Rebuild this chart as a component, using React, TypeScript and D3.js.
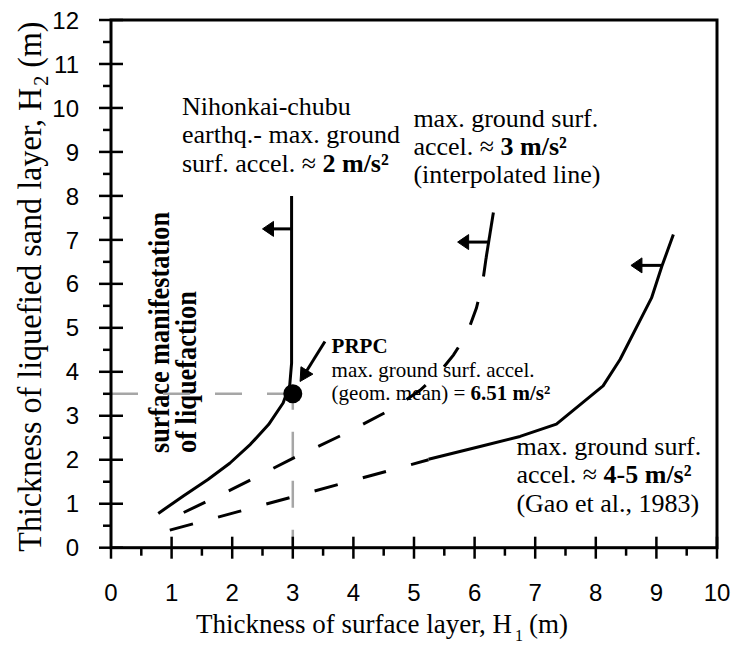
import React from "react";
import * as d3 from "d3";

// ---- data ----
const X_TICKS = [0, 1, 2, 3, 4, 5, 6, 7, 8, 9, 10];
const Y_TICKS = [0, 1, 2, 3, 4, 5, 6, 7, 8, 9, 10, 11, 12];
const X_MINOR = [0.5, 1.5, 2.5, 3.5, 4.5, 5.5, 6.5, 7.5, 8.5, 9.5];
const Y_MINOR = [0.5, 1.5, 2.5, 3.5, 4.5, 5.5, 6.5, 7.5, 8.5, 9.5, 10.5, 11.5];

// Nihonkai-chubu earthquake (~2 m/s2), solid
const curve2ms: [number, number][] = [
  [0.78, 0.78], [1.2, 1.18], [1.6, 1.55], [1.96, 1.92], [2.3, 2.35], [2.6, 2.8],
  [2.84, 3.29], [2.95, 3.7], [2.98, 4.2], [2.98, 8.0],
];
// ~3 m/s2 interpolated, dashed
const curve3ms: [number, number][] = [
  [1.2, 0.8], [2.0, 1.33], [3.0, 2.03], [3.9, 2.62], [4.7, 3.2], [5.1, 3.58],
  [5.4, 3.95], [5.65, 4.38], [5.87, 4.85], [6.03, 5.45], [6.13, 6.0], [6.19, 6.59],
];
const curve3msTop: [number, number][] = [[6.19, 6.59], [6.31, 7.62]];
// ~4-5 m/s2 (Gao et al., 1983): dashed part then solid part
const curve45Dashed: [number, number][] = [
  [0.97, 0.4], [2.1, 0.82], [3.12, 1.2], [3.94, 1.51], [4.74, 1.81], [5.24, 2.0],
];
const curve45Solid: [number, number][] = [
  [5.24, 2.01], [6.09, 2.3], [6.75, 2.53], [7.35, 2.81], [8.12, 3.68], [8.4, 4.28],
  [8.92, 5.68], [9.09, 6.4], [9.28, 7.12],
];
// horizontal arrows [fromX, toX, y]
const arrows: [number, number, number][] = [
  [2.98, 2.5, 7.25],
  [6.23, 5.72, 6.95],
  [9.09, 8.58, 6.42],
];
// PRPC point
const prpc: [number, number] = [3.0, 3.5];
const prpcArrow: [[number, number], [number, number]] = [[3.53, 4.69], [3.12, 3.78]];

const W = 732;
const H = 646;
const SERIF = "'Liberation Serif', 'Times New Roman', serif";
const SANS = "'Liberation Sans', Arial, sans-serif";

function arrowShape(x1: number, y1: number, x2: number, y2: number, L: number, hw: number) {
  const dx = x2 - x1, dy = y2 - y1;
  const len = Math.hypot(dx, dy);
  const ux = dx / len, uy = dy / len;
  const bx = x2 - ux * L, by = y2 - uy * L;
  const px = -uy, py = ux;
  return {
    stem: `M${x1},${y1}L${bx + ux * 1},${by + uy * 1}`,
    head: `M${x2},${y2}L${bx + px * hw},${by + py * hw}L${bx - px * hw},${by - py * hw}Z`,
  };
}

export default function App() {
  const x = d3.scaleLinear().domain([0, 10]).range([111, 717]);
  const y = d3.scaleLinear().domain([0, 12]).range([547.7, 20]);
  const line = d3.line<[number, number]>().x((d) => x(d[0])).y((d) => y(d[1]));

  const prpcA = arrowShape(
    x(prpcArrow[0][0]), y(prpcArrow[0][1]), x(prpcArrow[1][0]), y(prpcArrow[1][1]), 13, 7
  );

  const annFont = 26;
  return (
    <svg width={W} height={H} style={{ position: "absolute", left: 0, top: 0, background: "#fff" }}>
      <rect x={0} y={0} width={W} height={H} fill="#fff" />

      {/* rotated label */}
      <g transform={`translate(${169},${453}) rotate(-90)`} fontFamily={SERIF} fontWeight="bold" fontSize={29}>
        <text x={0} y={0} textLength={241} lengthAdjust="spacingAndGlyphs">surface manifestation</text>
        <text x={0} y={27} textLength={162} lengthAdjust="spacingAndGlyphs">of liquefaction</text>
      </g>

      {/* grey reference lines */}
      <path
        d={`M${x(0)},${y(prpc[1])}L${x(prpc[0])},${y(prpc[1])}`}
        stroke="#a6a6a6" strokeWidth={2.5} strokeDasharray="27,25" fill="none"
      />
      <path
        d={`M${x(prpc[0])},${y(0)}L${x(prpc[0])},${y(prpc[1])}`}
        stroke="#a6a6a6" strokeWidth={2.5} strokeDasharray="27,22" strokeDashoffset={9} fill="none"
      />

      {/* frame */}
      <rect x={x(0)} y={y(12)} width={x(10) - x(0)} height={y(0) - y(12)} fill="none" stroke="#000" strokeWidth={3} />

      {/* y ticks */}
      {Y_TICKS.map((t) => (
        <line key={"yt" + t} x1={x(0) - 12} x2={x(0) + 12} y1={y(t)} y2={y(t)} stroke="#000" strokeWidth={2.5} />
      ))}
      {Y_MINOR.map((t) => (
        <line key={"ym" + t} x1={x(0) - 8} x2={x(0)} y1={y(t)} y2={y(t)} stroke="#000" strokeWidth={2.5} />
      ))}
      {Y_TICKS.map((t) => (
        <text key={"yl" + t} x={79} y={y(t)} dy="0.36em" textAnchor="end" fontFamily={SANS} fontSize={24}>
          {t}
        </text>
      ))}

      {/* x ticks */}
      {X_TICKS.map((t) => (
        <line key={"xt" + t} x1={x(t)} x2={x(t)} y1={y(0) + 11} y2={t === 0 ? y(0) : y(0) - 11} stroke="#000" strokeWidth={2.5} />
      ))}
      {X_MINOR.map((t) => (
        <line key={"xm" + t} x1={x(t)} x2={x(t)} y1={y(0)} y2={y(0) + 8} stroke="#000" strokeWidth={2.5} />
      ))}
      {X_TICKS.map((t) => (
        <text key={"xl" + t} x={x(t)} y={601} textAnchor="middle" fontFamily={SANS} fontSize={24}>
          {t}
        </text>
      ))}

      {/* x axis title */}
      <g fontFamily={SERIF}>
        <text x={196} y={633} fontSize={27}>Thickness of surface layer, H</text>
        <text x={515} y={641} fontSize={16}>1</text>
        <text x={529} y={633} fontSize={27}>(m)</text>
      </g>
      {/* y axis title */}
      <g transform={`translate(41,${(551.7 + 21.7) / 2}) rotate(-90)`} fontFamily={SERIF}>
        <text x={-265} y={0} fontSize={34} textLength={464} lengthAdjust="spacingAndGlyphs">
          Thickness of liquefied sand layer, H
        </text>
        <text x={201} y={7} fontSize={20}>2</text>
        <text x={219} y={0} fontSize={34} textLength={46} lengthAdjust="spacingAndGlyphs">(m)</text>
      </g>

      {/* curves */}
      <path d={line(curve2ms) || ""} fill="none" stroke="#000" strokeWidth={3} strokeLinejoin="round" />
      <path d={line(curve3ms) || ""} fill="none" stroke="#000" strokeWidth={3} strokeDasharray="24,26" />
      <path d={line(curve3msTop) || ""} fill="none" stroke="#000" strokeWidth={3} />
      <path d={line(curve45Dashed) || ""} fill="none" stroke="#000" strokeWidth={3} strokeDasharray="24,26" />
      <path d={line(curve45Solid) || ""} fill="none" stroke="#000" strokeWidth={3} strokeLinejoin="round" />

      {/* horizontal arrows */}
      {arrows.map(([a, b, yy], i) => {
        const s = arrowShape(x(a), y(yy), x(b), y(yy), 11, 7.5);
        return (
          <g key={"ar" + i}>
            <path d={s.stem} stroke="#000" strokeWidth={3} />
            <path d={s.head} fill="#000" stroke="#000" strokeWidth={1} strokeLinejoin="round" />
          </g>
        );
      })}

      {/* PRPC dot and arrow */}
      <circle cx={x(prpc[0])} cy={y(prpc[1])} r={9.5} fill="#000" />
      <path d={prpcA.stem} stroke="#000" strokeWidth={3} />
      <path d={prpcA.head} fill="#000" stroke="#000" strokeWidth={1} strokeLinejoin="round" />

      {/* annotations */}
      <g fontFamily={SERIF} fontSize={annFont}>
        <text x={x(1.17)} y={115}>Nihonkai-chubu</text>
        <text x={x(1.17)} y={143.3}>earthq.- max. ground</text>
        <text x={x(1.17)} y={171.7}>
          surf. accel. ≈ <tspan fontWeight="bold">2 m/s²</tspan>
        </text>

        <text x={x(4.99)} y={126.7}>max. ground surf.</text>
        <text x={x(4.99)} y={155}>
          accel. ≈ <tspan fontWeight="bold">3 m/s²</tspan>
        </text>
        <text x={x(4.99)} y={183.3}>(interpolated line)</text>

        <text x={x(6.69)} y={455}>max. ground surf.</text>
        <text x={x(6.69)} y={483.3}>
          accel. ≈ <tspan fontWeight="bold">4-5 m/s²</tspan>
        </text>
        <text x={x(6.69)} y={511.7}>(Gao et al., 1983)</text>
      </g>
      <g fontFamily={SERIF} fontSize={21}>
        <text x={x(3.64)} y={353.3} fontWeight="bold">PRPC</text>
        <text x={x(3.64)} y={376.7}>max. ground surf. accel.</text>
        <text x={x(3.64)} y={400}>
          (geom. mean) = <tspan fontWeight="bold">6.51 m/s²</tspan>
        </text>
      </g>
    </svg>
  );
}
